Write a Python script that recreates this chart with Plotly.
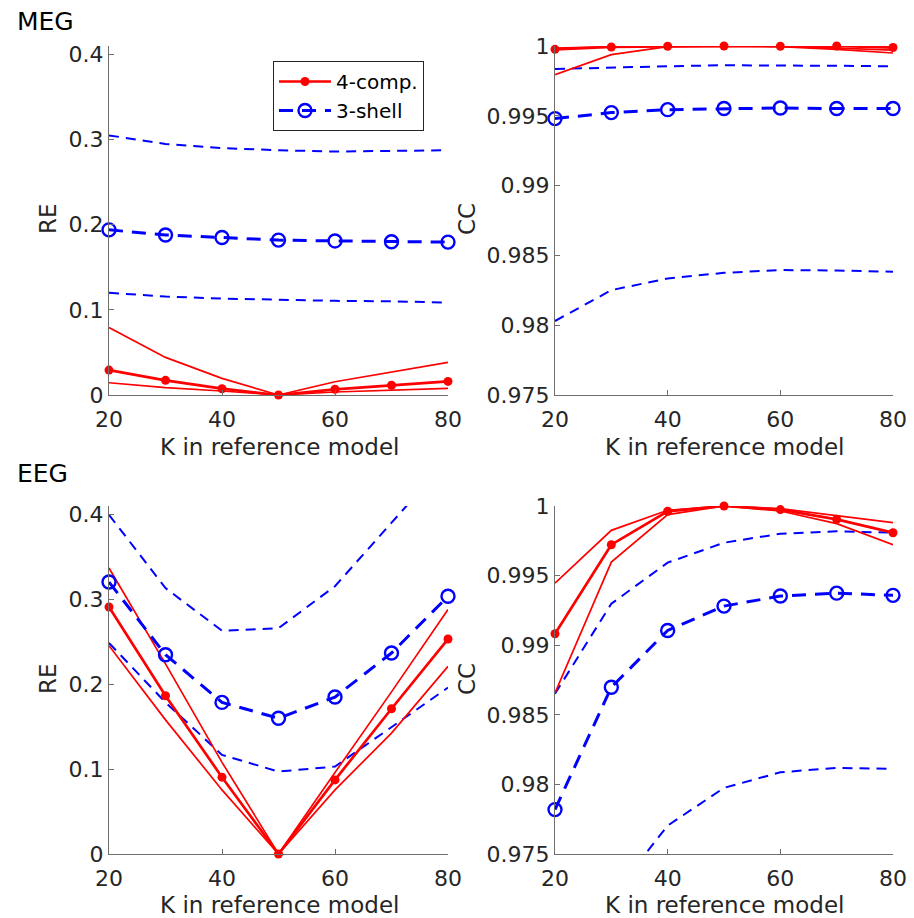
import plotly.graph_objects as go

# ---------------- data ----------------
K = [20, 30, 40, 50, 60, 70, 80]

# MEG, relative error
meg_re_4c = [0.0293, 0.0172, 0.0074, 0.0, 0.0067, 0.0114, 0.0160]
meg_re_4c_hi = [0.0793, 0.0442, 0.0195, 0.0, 0.0156, 0.0273, 0.0383]
meg_re_4c_lo = [0.0144, 0.0086, 0.0047, 0.0, 0.0035, 0.0055, 0.0078]
meg_re_3s = [0.194, 0.188, 0.185, 0.182, 0.181, 0.180, 0.1796]
meg_re_3s_hi = [0.305, 0.295, 0.290, 0.2875, 0.286, 0.2865, 0.2875]
meg_re_3s_lo = [0.120, 0.1157, 0.1133, 0.1118, 0.1106, 0.110, 0.1086]

# MEG, correlation coefficient
meg_cc_4c = [0.99976, 0.99993, 0.99998, 1.0, 0.99998, 1.0, 0.99989]
meg_cc_4c_hi = [0.99985, 0.99995, 0.99999, 1.0, 0.99998, 0.99985, 0.9997]
meg_cc_4c_lo = [0.99795, 0.99938, 0.99996, 1.0, 0.99996, 0.99976, 0.9995]
meg_cc_3s = [0.9948, 0.99523, 0.99544, 0.99552, 0.99556, 0.99552, 0.99552]
meg_cc_3s_hi = [0.99835, 0.99847, 0.99855, 0.99862, 0.99862, 0.99858, 0.99855]
meg_cc_3s_lo = [0.9803, 0.98251, 0.98335, 0.98375, 0.98395, 0.98392, 0.98383]

# EEG, relative error
eeg_re_4c = [0.291, 0.1864, 0.0905, 0.0, 0.0873, 0.1711, 0.2533]
eeg_re_4c_hi = [0.337, 0.224, 0.108, 0.0, 0.096, 0.191, 0.288]
eeg_re_4c_lo = [0.2454, 0.158, 0.0755, 0.0, 0.0755, 0.1424, 0.221]
eeg_re_3s = [0.3204, 0.2348, 0.1786, 0.160, 0.1849, 0.2368, 0.3036]
eeg_re_3s_hi = [0.3996, 0.3133, 0.263, 0.266, 0.3155, 0.391, 0.465]
eeg_re_3s_lo = [0.2486, 0.1786, 0.1168, 0.0971, 0.103, 0.150, 0.196]

# EEG, correlation coefficient
eeg_cc_4c = [0.99082, 0.99722, 0.99962, 1.0, 0.99974, 0.99904, 0.99808]
eeg_cc_4c_hi = [0.99446, 0.99825, 0.99969, 1.0, 0.99981, 0.99933, 0.9988]
eeg_cc_4c_lo = [0.98658, 0.99597, 0.99938, 1.0, 0.99964, 0.99873, 0.99722]
eeg_cc_3s = [0.97819, 0.98698, 0.99106, 0.99281, 0.99353, 0.99374, 0.99358]
eeg_cc_3s_hi = [0.98651, 0.99298, 0.99593, 0.99736, 0.99801, 0.99818, 0.99808]
eeg_cc_3s_lo = [0.965, 0.9719, 0.97704, 0.97975, 0.98087, 0.98119, 0.98111]

x_ticks = [20, 40, 60, 80]
x_ticktext = ["20", "40", "60", "80"]
re_ticks = [0, 0.1, 0.2, 0.3, 0.4]
re_ticktext = ["0", "0.1", "0.2", "0.3", "0.4"]
cc_ticks = [0.975, 0.98, 0.985, 0.99, 0.995, 1.0]
cc_ticktext = ["0.975", "0.98", "0.985", "0.99", "0.995", "1"]

legend_names = ["4-comp.", "3-shell"]
panel_titles = ["MEG", "EEG"]
x_title = "K in reference model"

# ---------------- styling ----------------
W, H = 914, 918
RED = "#ff0000"
BLUE = "#0000ff"
AX = "#6e6e6e"
TXT = "#262626"
FONT = "DejaVu Sans"


def px_x(p):
    return p / W


def px_y(p):
    return 1 - p / H


fig = go.Figure()

panels = [
    ("x", "y", (meg_re_4c, meg_re_4c_hi, meg_re_4c_lo, meg_re_3s, meg_re_3s_hi, meg_re_3s_lo), True, True),
    ("x2", "y2", (meg_cc_4c, meg_cc_4c_hi, meg_cc_4c_lo, meg_cc_3s, meg_cc_3s_hi, meg_cc_3s_lo), False, False),
    ("x3", "y3", (eeg_re_4c, eeg_re_4c_hi, eeg_re_4c_lo, eeg_re_3s, eeg_re_3s_hi, eeg_re_3s_lo), True, False),
    ("x4", "y4", (eeg_cc_4c, eeg_cc_4c_hi, eeg_cc_4c_lo, eeg_cc_3s, eeg_cc_3s_hi, eeg_cc_3s_lo), False, False),
]

for xa, ya, d, is_re, sl in panels:
    c4, c4hi, c4lo, s3, s3hi, s3lo = d
    for yy in (s3hi, s3lo):
        fig.add_trace(go.Scatter(x=K, y=yy, xaxis=xa, yaxis=ya, mode="lines",
                                 line=dict(color=BLUE, width=2.0, dash="10px,7px"),
                                 showlegend=False, hoverinfo="skip"))
    for yy in (c4hi, c4lo):
        fig.add_trace(go.Scatter(x=K, y=yy, xaxis=xa, yaxis=ya, mode="lines",
                                 line=dict(color=RED, width=1.7),
                                 showlegend=False, hoverinfo="skip"))
    fig.add_trace(go.Scatter(x=K, y=c4, xaxis=xa, yaxis=ya, mode="lines+markers",
                             name=legend_names[0], legendrank=1,
                             line=dict(color=RED, width=2.7),
                             marker=dict(symbol="circle", size=9, color=RED),
                             cliponaxis=False, showlegend=sl))
    fig.add_trace(go.Scatter(x=K, y=s3, xaxis=xa, yaxis=ya, mode="lines+markers",
                             name=legend_names[1], legendrank=2,
                             line=dict(color=BLUE, width=3.0, dash="14px,9px"),
                             marker=dict(symbol="circle-open", size=13, color=BLUE,
                                         line=dict(width=2.4, color=BLUE)),
                             cliponaxis=False, showlegend=sl))

left_dom = [px_x(109), px_x(448)]
right_dom = [px_x(555), px_x(893)]
top_dom = [px_y(395), px_y(46)]
bot_dom = [px_y(854), px_y(506)]


def xaxis(dom, anchor):
    return dict(domain=dom, anchor=anchor, range=[20, 80], tickvals=x_ticks, ticktext=x_ticktext,
                showline=True, linecolor=AX, linewidth=1.2, ticks="inside", ticklen=5,
                tickcolor=AX, showgrid=False, zeroline=False, ticklabelstandoff=4,
                automargin=False,
                tickfont=dict(family=FONT, size=22, color=TXT))


def yaxis(dom, anchor, is_re):
    if is_re:
        rng, tv, tt = [0, 0.41], re_ticks, re_ticktext
    else:
        rng, tv, tt = [0.975, 1.0], cc_ticks, cc_ticktext
    return dict(domain=dom, anchor=anchor, range=rng, tickvals=tv, ticktext=tt,
                showline=True, linecolor=AX, linewidth=1.2, ticks="inside", ticklen=5,
                tickcolor=AX, showgrid=False, zeroline=False, ticklabelstandoff=0,
                automargin=False,
                tickfont=dict(family=FONT, size=22, color=TXT))


annotations = []
for txt, x, y, ang in [
    ("RE", 48, 219, -90), ("CC", 467, 219, -90),
    ("RE", 48, 679, -90), ("CC", 467, 679, -90),
    (x_title, 279, 447, 0), (x_title, 724, 447, 0),
    (x_title, 279, 905, 0), (x_title, 724, 905, 0),
]:
    annotations.append(dict(text=txt, x=px_x(x), y=px_y(y), xref="paper", yref="paper",
                            xanchor="center", yanchor="middle", showarrow=False,
                            textangle=ang, font=dict(family=FONT, size=23, color=TXT)))
for txt, x, y in [(panel_titles[0], 15, 22), (panel_titles[1], 15, 473)]:
    annotations.append(dict(text=txt, x=px_x(x), y=px_y(y), xref="paper", yref="paper",
                            xanchor="left", yanchor="middle", showarrow=False,
                            font=dict(family=FONT, size=25, color="#000000")))

fig.update_layout(
    width=W, height=H,
    margin=dict(l=0, r=0, t=0, b=0, autoexpand=False),
    paper_bgcolor="white", plot_bgcolor="white",
    showlegend=True,
    xaxis=xaxis(left_dom, "y"), yaxis=yaxis(top_dom, "x", True),
    xaxis2=xaxis(right_dom, "y2"), yaxis2=yaxis(top_dom, "x2", False),
    xaxis3=xaxis(left_dom, "y3"), yaxis3=yaxis(bot_dom, "x3", True),
    xaxis4=xaxis(right_dom, "y4"), yaxis4=yaxis(bot_dom, "x4", False),
    legend=dict(x=px_x(273), y=px_y(61), xanchor="left", yanchor="top",
                bgcolor="white", bordercolor="#262626", borderwidth=1,
                font=dict(family=FONT, size=20, color="#000000"),
                itemwidth=52, tracegroupgap=0),
    annotations=annotations,
    hovermode=False,
)

fig.write_html("out.html",
               config={"displayModeBar": False},
               post_script="document.body.style.margin='0';document.body.style.overflow='hidden';")
